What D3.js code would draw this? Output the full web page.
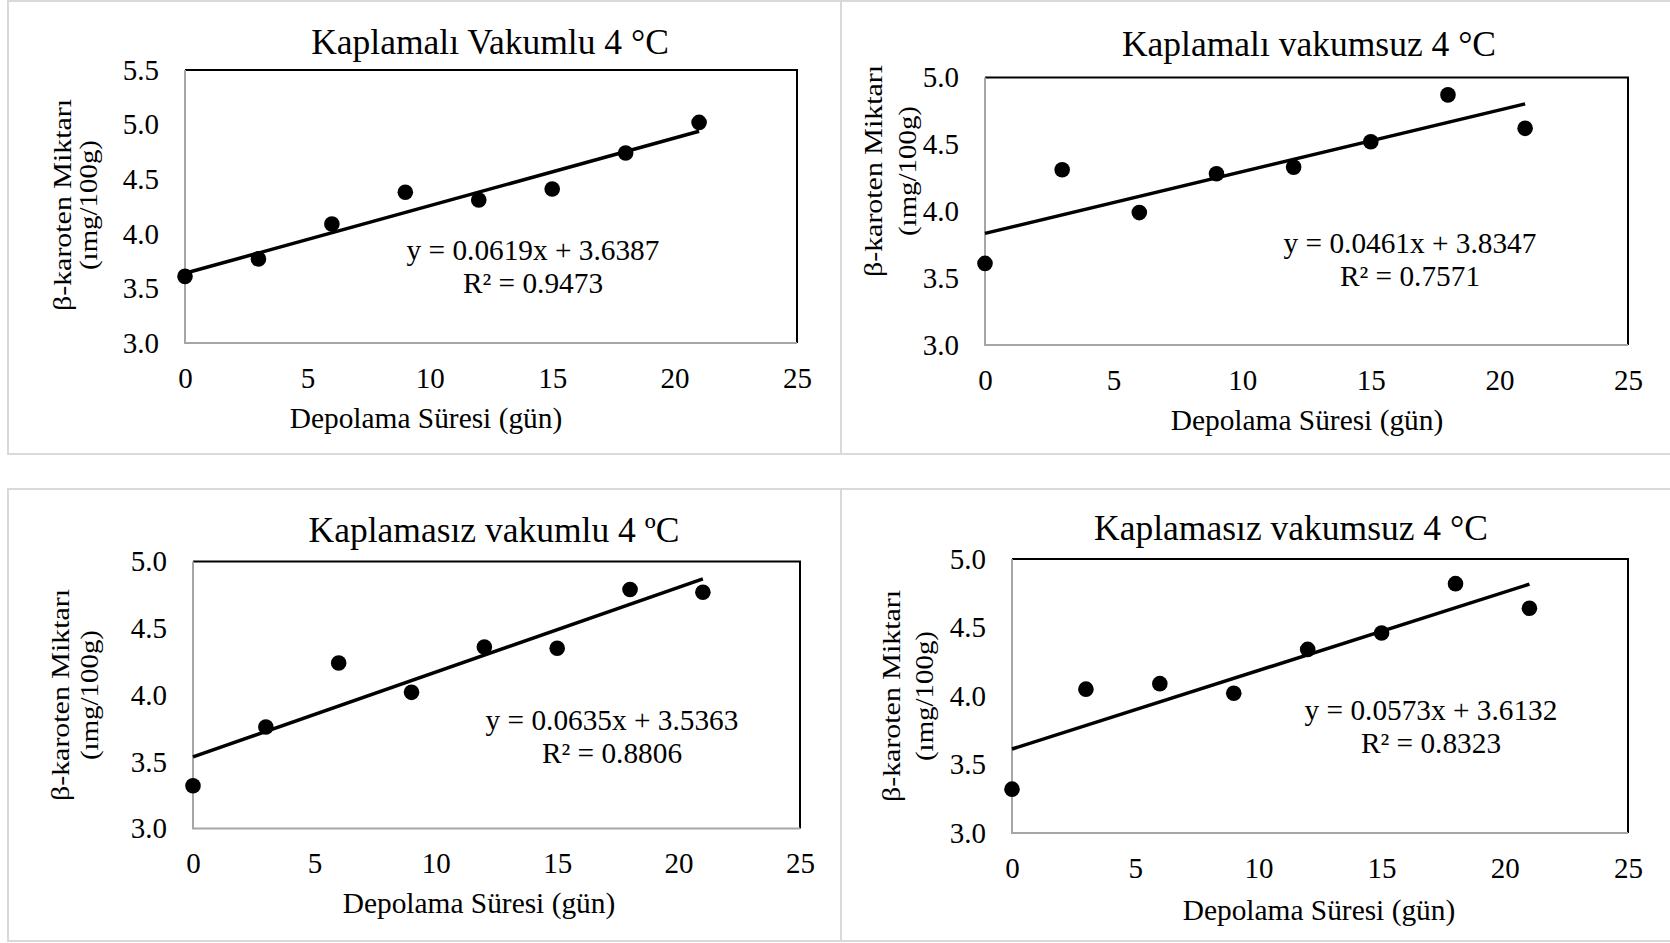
<!DOCTYPE html>
<html>
<head>
<meta charset="utf-8">
<script src="https://cdn.jsdelivr.net/npm/d3@7"></script>
<style>
  body { margin: 0; background: #fff; }
  svg text { font-family: "Liberation Serif", "Times New Roman", serif; }
</style>
</head>
<body>
<div id="chart"></div>
<script>
// storage days (x) and beta-carotene values for each treatment
var days = [0, 3, 6, 9, 12, 15, 18, 21];
var coatedVacuum = [3.61, 3.77, 4.09, 4.38, 4.31, 4.41, 4.74, 5.02];
var coatedNoVacuum = [3.61, 4.31, 3.99, 4.28, 4.33, 4.52, 4.87, 4.62];
var uncoatedVacuum = [3.32, 3.76, 4.24, 4.02, 4.36, 4.35, 4.79, 4.77];
var uncoatedNoVacuum = [3.32, 4.05, 4.09, 4.02, 4.34, 4.46, 4.82, 4.64];

var titles = ["Kaplamalı Vakumlu 4 °C", "Kaplamalı vakumsuz 4 °C",
              "Kaplamasız vakumlu 4 ºC", "Kaplamasız vakumsuz 4 °C"];
var slopes = [0.0619, 0.0461, 0.0635, 0.0573];
var intercepts = [3.6387, 3.8347, 3.5363, 3.6132];
var rSquared = ["0.9473", "0.7571", "0.8806", "0.8323"];

var xTicks = [0, 5, 10, 15, 20, 25];
var yTicksTall = [3.0, 3.5, 4.0, 4.5, 5.0, 5.5];
var yTicks = [3.0, 3.5, 4.0, 4.5, 5.0];

var xTitle = "Depolama Süresi (gün)";
var yTitle1 = "β-karoten Miktarı";
var yTitle2 = "(ımg/100g)";

var width = 1670, height = 943;

var svg = d3.select("#chart")
    .append("svg")
    .attr("width", width)
    .attr("height", height);

svg.append("rect")
    .attr("width", width)
    .attr("height", height)
    .attr("fill", "#fff");

// panel placement (pixels)
var panels = [
    { values: coatedVacuum, ticks: yTicksTall,
      frame: [8, 1, 833, 453], plot: [185, 797, 70, 343],
      titleX: 490, titleY: 54, eqX: 533, eqY: 260,
      xTitleX: 426, xTitleY: 428, yLabX: [71, 97], yLabY: 205 },
    { values: coatedNoVacuum, ticks: yTicks,
      frame: [841, 1, 840, 453], plot: [985, 1628, 77.5, 345],
      titleX: 1309, titleY: 56, eqX: 1410, eqY: 253,
      xTitleX: 1307, xTitleY: 430, yLabX: [882, 916], yLabY: 171 },
    { values: uncoatedVacuum, ticks: yTicks,
      frame: [8, 489, 833, 452], plot: [193, 800, 561.5, 828.5],
      titleX: 494, titleY: 542, eqX: 612, eqY: 730,
      xTitleX: 479, xTitleY: 913, yLabX: [69, 98], yLabY: 695 },
    { values: uncoatedNoVacuum, ticks: yTicks,
      frame: [841, 489, 840, 452], plot: [1012, 1628, 559, 833],
      titleX: 1291, titleY: 540, eqX: 1431, eqY: 720,
      xTitleX: 1319, xTitleY: 920, yLabX: [900, 933], yLabY: 696 }
];

panels.forEach(function (p, i) {
    var g = svg.append("g");

    g.append("rect")
        .attr("x", p.frame[0]).attr("y", p.frame[1])
        .attr("width", p.frame[2]).attr("height", p.frame[3])
        .attr("fill", "none")
        .attr("stroke", "#d9d9d9")
        .attr("stroke-width", 2);

    var x = d3.scaleLinear()
        .domain([xTicks[0], xTicks[xTicks.length - 1]])
        .range([p.plot[0], p.plot[1]]);
    var y = d3.scaleLinear()
        .domain([p.ticks[0], p.ticks[p.ticks.length - 1]])
        .range([p.plot[3], p.plot[2]]);

    // plot area border: black top/right, grey axis lines left/bottom
    g.append("path")
        .attr("d", "M" + x.range()[0] + "," + y.range()[1] +
                   "H" + x.range()[1] + "V" + y.range()[0])
        .attr("fill", "none")
        .attr("stroke", "#000")
        .attr("stroke-width", 2);
    g.append("path")
        .attr("d", "M" + x.range()[0] + "," + y.range()[1] +
                   "V" + y.range()[0] + "H" + x.range()[1])
        .attr("fill", "none")
        .attr("stroke", "#a6a6a6")
        .attr("stroke-width", 2);

    var xAxis = g.append("g")
        .attr("transform", "translate(0," + y.range()[0] + ")")
        .call(d3.axisBottom(x).tickValues(xTicks).tickSize(0).tickPadding(24));
    var yAxis = g.append("g")
        .attr("transform", "translate(" + x.range()[0] + ",0)")
        .call(d3.axisLeft(y).tickValues(p.ticks).tickSize(0).tickPadding(26)
              .tickFormat(d3.format(".1f")));
    [xAxis, yAxis].forEach(function (a) {
        a.attr("font-family", null).attr("font-size", null);
        a.select(".domain").remove();
        a.selectAll("text")
            .style("font-family", "'Liberation Serif', serif")
            .style("font-size", "29px")
            .attr("fill", "#000");
    });

    // trend line from the equation
    var lineX = d3.extent(days);
    g.append("path")
        .datum(lineX)
        .attr("d", d3.line()
            .x(function (d) { return x(d); })
            .y(function (d) { return y(slopes[i] * d + intercepts[i]); }))
        .attr("stroke", "#000")
        .attr("stroke-width", 3.5)
        .attr("fill", "none");

    g.selectAll("circle")
        .data(days)
        .enter()
        .append("circle")
        .attr("cx", function (d) { return x(d); })
        .attr("cy", function (d, j) { return y(p.values[j]); })
        .attr("r", 7.8)
        .attr("fill", "#000");

    g.append("text")
        .attr("x", p.titleX).attr("y", p.titleY)
        .attr("text-anchor", "middle")
        .style("font-size", "35.5px")
        .text(titles[i]);

    g.append("text")
        .attr("x", p.eqX).attr("y", p.eqY)
        .attr("text-anchor", "middle")
        .style("font-size", "29.3px")
        .text("y = " + slopes[i].toFixed(4) + "x + " + intercepts[i].toFixed(4));
    g.append("text")
        .attr("x", p.eqX).attr("y", p.eqY + 33)
        .attr("text-anchor", "middle")
        .style("font-size", "29.3px")
        .text("R² = " + rSquared[i]);

    g.append("text")
        .attr("x", p.xTitleX).attr("y", p.xTitleY)
        .attr("text-anchor", "middle")
        .style("font-size", "29.4px")
        .text(xTitle);

    [[yTitle1, 212], [yTitle2, 130]].forEach(function (t, k) {
        g.append("text")
            .attr("transform", "translate(" + p.yLabX[k] + "," + p.yLabY + ") rotate(-90)")
            .attr("text-anchor", "middle")
            .style("font-size", "25.5px")
            .attr("textLength", t[1])
            .attr("lengthAdjust", "spacingAndGlyphs")
            .text(t[0]);
    });
});
</script>
</body>
</html>
